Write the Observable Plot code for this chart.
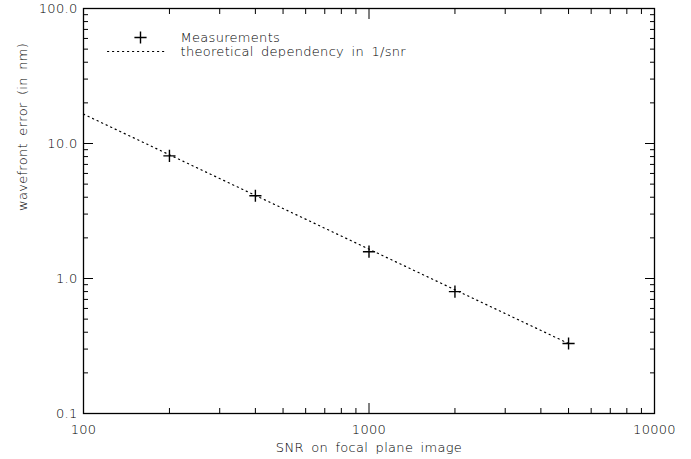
<!DOCTYPE html>
<html>
<head>
<meta charset="utf-8">
<script src="https://cdn.jsdelivr.net/npm/d3@7"></script>
<script src="https://cdn.jsdelivr.net/npm/@observablehq/plot@0.6"></script>
<style>
  html, body { margin: 0; padding: 0; background: #fff; }
  svg text { letter-spacing: 0.3px; word-spacing: 3px; }
</style>
</head>
<body>
<div id="chart"></div>
<script>
// Data
const snr = [200, 400, 1000, 2000, 5000];
const wavefrontError = [8.1, 4.1, 1.58, 0.80, 0.33];
const theorySnr = [100, 5000];
const theoryError = [16.5, 0.33];

const xMajor = [100, 1000, 10000];
const xMinor = [200, 300, 400, 500, 600, 700, 800, 900, 2000, 3000, 4000, 5000, 6000, 7000, 8000, 9000];
const yMajor = [0.1, 1, 10, 100];
const yMinor = [0.2, 0.3, 0.4, 0.5, 0.6, 0.7, 0.8, 0.9, 2, 3, 4, 5, 6, 7, 8, 9, 20, 30, 40, 50, 60, 70, 80, 90];

const xTitle = "SNR on focal plane image";
const yTitle = "wavefront error (in nm)";
const legendLabels = ["Measurements", "theoretical dependency in 1/snr"];

const measurements = snr.map((s, i) => ({snr: s, err: wavefrontError[i]}));
const theory = theorySnr.map((s, i) => ({snr: s, err: theoryError[i]}));

const font = "DejaVu Sans, Liberation Sans, sans-serif";
const lineShape = { draw(context, l) { context.moveTo(0, 0); context.lineTo(0, -l); } };

const chart = Plot.plot({
  width: 691,
  height: 459,
  marginLeft: 83,
  marginRight: 37,
  marginTop: 8,
  marginBottom: 46,
  style: { fontFamily: font, fontSize: "13px", fontWeight: 200, background: "#fff", color: "#000" },
  x: { type: "log", domain: [100, 10000] },
  y: { type: "log", domain: [0.1, 100] },
  marks: [
    // inward ticks
    Plot.axisX(xMajor, { anchor: "bottom", tickSize: -10, fill: "none", label: null, strokeWidth: 1 }),
    Plot.axisX(xMinor, { anchor: "bottom", tickSize: -5, fill: "none", label: null, strokeWidth: 1 }),
    Plot.axisX(xMajor, { anchor: "top", tickSize: -10, fill: "none", label: null, strokeWidth: 1 }),
    Plot.axisX(xMinor, { anchor: "top", tickSize: -5, fill: "none", label: null, strokeWidth: 1 }),
    Plot.axisY(yMajor, { anchor: "left", tickSize: -10, fill: "none", label: null, strokeWidth: 1 }),
    Plot.axisY(yMinor, { anchor: "left", tickSize: -5, fill: "none", label: null, strokeWidth: 1 }),
    Plot.axisY(yMajor, { anchor: "right", tickSize: -10, fill: "none", label: null, strokeWidth: 1 }),
    Plot.axisY(yMinor, { anchor: "right", tickSize: -5, fill: "none", label: null, strokeWidth: 1 }),
    // tick labels
    Plot.axisX(xMajor, { anchor: "bottom", tickSize: 0, tickPadding: 11, label: null, tickFormat: d => String(d), fontSize: 13 }),
    Plot.axisY(yMajor, { anchor: "left", tickSize: 0, tickPadding: 6, label: null, tickFormat: d => d.toFixed(1), fontSize: 13 }),
    // axis titles
    Plot.text([xTitle], { frameAnchor: "bottom", dy: 34, lineAnchor: "middle", text: d => d, fontSize: 13, fill: "#000" }),
    Plot.text([yTitle], { frameAnchor: "left", dx: -61, rotate: -90, lineAnchor: "middle", text: d => d, fontSize: 13, fill: "#000" }),
    Plot.frame({ stroke: "#000", strokeWidth: 1.3 }),
    // theory line
    Plot.line(theory, { x: "snr", y: "err", stroke: "#000", strokeWidth: 1.2, strokeDasharray: "1.2,3.8" }),
    // measurements
    Plot.dot(measurements, { x: "snr", y: "err", symbol: "plus", r: 4, stroke: "#000", strokeWidth: 1.4 }),
    // legend
    Plot.dot([legendLabels[0]], { frameAnchor: "top-left", dx: 57, dy: 29, symbol: "plus", r: 4, stroke: "#000", strokeWidth: 1.4 }),
    Plot.vector([legendLabels[1]], { frameAnchor: "top-left", dx: 24, dy: 43, rotate: 90, length: 59, anchor: "start", shape: lineShape, stroke: "#000", strokeWidth: 1.2, strokeDasharray: "1.2,3.8" }),
    Plot.text([legendLabels[0]], { frameAnchor: "top-left", dx: 97, dy: 29, lineAnchor: "middle", text: d => d, textAnchor: "start", fontSize: 13, fill: "#000" }),
    Plot.text([legendLabels[1]], { frameAnchor: "top-left", dx: 97, dy: 43, lineAnchor: "middle", text: d => d, textAnchor: "start", fontSize: 13, fill: "#000" }),
  ]
});

document.getElementById("chart").append(chart);
</script>
</body>
</html>
